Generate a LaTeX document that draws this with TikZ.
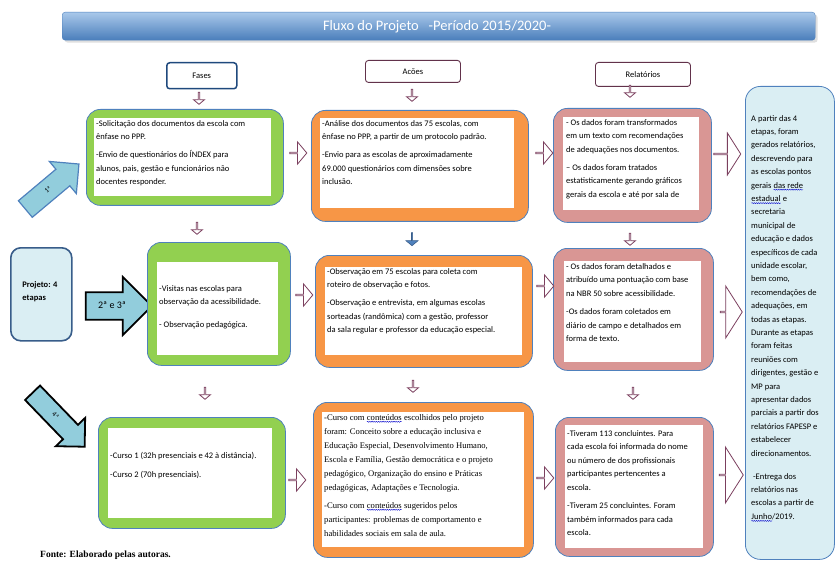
\documentclass[tikz,border=0pt]{standalone}
\usepackage{fontspec}
\setmainfont{Carlito}
\newfontfamily\serifb{Liberation Serif}
\usetikzlibrary{shapes.arrows,shadows,decorations.pathmorphing}
\definecolor{gfill}{HTML}{92D050}
\definecolor{ofill}{HTML}{F79646}
\definecolor{pfill}{HTML}{D99694}
\definecolor{lblue}{HTML}{DAEEF3}
\definecolor{bborder}{HTML}{4F81BD}
\definecolor{dblue}{HTML}{385D8A}
\definecolor{mrn}{HTML}{7B3F5E}
\definecolor{afill}{HTML}{92CDDC}
\definecolor{navy}{HTML}{1F497D}
\definecolor{tbtop}{HTML}{A9C8EA}
\definecolor{tbbot}{HTML}{4A7EBB}
\newcommand\bwave[1]{\tikz[baseline=(bw.base)]{\node[inner sep=0pt,outer sep=0pt,draw=none,fill=none,anchor=base] (bw) {#1};\draw[blue!80!black,line width=0.4pt,decorate,decoration={snake,amplitude=0.5pt,segment length=2.2pt}] ([yshift=-1.6pt]bw.base west)--([yshift=-1.6pt]bw.base east);}}
\begin{document}
\begin{tikzpicture}[x=1pt,y=-1pt,
  font=\fontsize{8.5}{13.5}\selectfont,
  box/.style={draw=bborder,line width=0.8pt,rounded corners=14pt,anchor=north west,inner sep=0pt},
  gbox/.style={box,fill=gfill},
  obox/.style={box,fill=ofill},
  pbox/.style={box,fill=pfill},
  wbox/.style={fill=white,draw=none,anchor=north west,inner sep=0pt},
  txt/.style={anchor=north west,align=left,inner sep=1pt},
  head/.style={draw,fill=white,rounded corners=3pt,anchor=north west,inner sep=0pt,font=\fontsize{8.5}{9}\selectfont},
  darr/.style={single arrow,draw=mrn,fill=white,line width=0.8pt,minimum height=12pt,minimum width=11pt,single arrow head extend=2.5pt,single arrow tip angle=100,shape border rotate=270,inner sep=0pt},
  rarr/.style={single arrow,draw=mrn,fill=white,line width=0.8pt,minimum height=17pt,minimum width=22pt,single arrow head extend=5.5pt,single arrow tip angle=100,inner sep=0pt},
  barr/.style={single arrow,draw=mrn,fill=white,line width=0.8pt,single arrow tip angle=115,inner sep=0pt},
  karr/.style={single arrow,fill=afill,inner sep=0pt,single arrow tip angle=90}
]
\useasboundingbox (0,0) rectangle (835,564);

% title
\node[draw=bborder,top color=tbtop,bottom color=tbbot,rounded corners=3pt,minimum width=753pt,minimum height=28pt,anchor=north west,drop shadow={opacity=0.25}] (title) at (62,12) {};
\node[text=white,font=\fontsize{14.5}{16}\selectfont] (titletext) at (437,26.5) {Fluxo do Projeto \ \ -Período 2015/2020-};

% headers
\node[head,draw=navy,line width=1.5pt,minimum width=70pt,minimum height=26pt] (fases) at (166,62) {Fases};
\node[head,draw=mrn!80!black,line width=0.9pt,minimum width=95pt,minimum height=22pt] (acoes) at (365,60) {Acões};
\node[head,draw=mrn!80!black,line width=0.9pt,minimum width=95pt,minimum height=24pt] (relat) at (595,62) {Relatórios};

\node[darr] (d1) at (199,98) {};
\node[darr] (d2) at (412,95) {};
\node[darr] (d3) at (630,91) {};

% row 1
\node[gbox,minimum width=197pt,minimum height=96pt] (g1) at (86,109) {};
\node[wbox,minimum width=177pt,minimum height=78pt] (g1w) at (94,118) {};
\node[txt] (g1t) at (95,119) {-Solicitação dos documentos da escola com\\
ênfase no PPP.\\[4.5pt]
-Envio de questionários do ÍNDEX para\\
alunos, pais, gestão e funcionários não\\
docentes responder.};

\node[obox,minimum width=217pt,minimum height=111pt] (o1) at (311,110) {};
\node[wbox,minimum width=194pt,minimum height=90pt] (o1w) at (320,118) {};
\node[txt] (o1t) at (321,119) {-Análise dos documentos das 75 escolas, com\\
ênfase no PPP, a partir de um protocolo padrão.\\[4.5pt]
-Envio para as escolas de aproximadamente\\
69.000 questionários com dimensões sobre\\
inclusão.};

\node[pbox,minimum width=158pt,minimum height=114pt] (p1) at (553,108) {};
\node[wbox,minimum width=136pt,minimum height=93pt] (p1w) at (563,117) {};
\node[txt] (p1t) at (565,118) {- Os dados foram transformados\\
em um texto com recomendações\\
de adequações nos documentos.\\[4.5pt]
– Os dados foram tratados\\
estatisticamente gerando gráficos\\
gerais da escola e até por sala de};

\node[rarr] (r11) at (298,153) {};
\node[rarr] (r12) at (544,153) {};
\node[barr,minimum height=27pt,minimum width=42pt,single arrow head extend=11pt] (b1) at (727,154) {};

\node[darr] (d4) at (197,228) {};
\node[single arrow,draw=dblue,fill=bborder,line width=0.6pt,minimum height=13pt,minimum width=12pt,single arrow head extend=3pt,single arrow tip angle=100,shape border rotate=270,inner sep=0pt] (d5) at (412,239) {};
\node[darr] (d6) at (630,239) {};

% row 2
\node[draw=dblue,line width=1.6pt,fill=lblue,rounded corners=10pt,minimum width=61pt,minimum height=93pt,anchor=north west] (proj) at (10,247) {};
\node[align=left,font=\bfseries\fontsize{8.5}{13}\selectfont] (projt) at (40,292) {Projeto: 4\\etapas};

\node[karr,draw=black,line width=1.8pt,minimum height=66pt,minimum width=58pt,single arrow head extend=15pt,font=\fontsize{10}{11}\selectfont] (a23) at (112,306) {\rule[-10pt]{0pt}{25pt}2ª e 3ª\hspace{10pt}};

\node[gbox,minimum width=143pt,minimum height=123pt] (g2) at (147,242) {};
\node[wbox,minimum width=121pt,minimum height=93pt] (g2w) at (157,262) {};
\node[txt] (g2t) at (158,284) {-Visitas nas escolas para\\
observação da acessibilidade.\\[9pt]
- Observação pedagógica.};

\node[obox,minimum width=217pt,minimum height=112pt] (o2) at (315,255) {};
\node[wbox,minimum width=197pt,minimum height=88pt] (o2w) at (325,267) {};
\node[txt] (o2t) at (326,267) {-Observação em 75 escolas para coleta com\\
roteiro de observação e fotos.\\[4.5pt]
-Observação e entrevista, em algumas escolas\\
sorteadas (randômica) com a gestão, professor\\
da sala regular e professor da educação especial.};

\node[pbox,minimum width=160pt,minimum height=122pt] (p2) at (553,248) {};
\node[wbox,minimum width=137pt,minimum height=101pt] (p2w) at (564,261) {};
\node[txt] (p2t) at (565,262) {- Os dados foram detalhados e\\
atribuído uma pontuação com base\\
na NBR 50 sobre acessibilidade.\\[5pt]
-Os dados foram coletados em\\
diário de campo e detalhados em\\
forma de texto.};

\node[rarr] (r21) at (304,295) {};
\node[rarr] (r22) at (545,286) {};
\node[barr,minimum height=22pt,minimum width=52pt,single arrow head extend=13pt] (b2) at (731,312) {};

\node[darr] (d7) at (205,393) {};
\node[darr] (d8) at (413,386) {};
\node[darr] (d9) at (633,393) {};

% diagonal arrows
\node[karr,draw=bborder,line width=1.2pt,minimum height=70pt,minimum width=42pt,single arrow head extend=10pt,rotate=40,font=\fontsize{7}{8}\selectfont] (a1) at (48,190) {\rule[-8pt]{0pt}{20pt}1ª\hspace{8pt}};
\node[karr,draw=black,line width=1.8pt,minimum height=75pt,minimum width=40pt,single arrow head extend=10pt,rotate=-46,font=\fontsize{7}{8}\selectfont] (a4) at (55,416) {\rule[-8pt]{0pt}{19pt}4ª\hspace{8pt}};

% row 3
\node[gbox,minimum width=187pt,minimum height=111pt] (g3) at (98,417) {};
\node[wbox,minimum width=164pt,minimum height=90pt] (g3w) at (108,428) {};
\node[txt] (g3t) at (109,451) {-Curso 1 (32h presenciais e 42 à distância).\\[6pt]
-Curso 2 (70h presenciais).};

\node[obox,minimum width=220pt,minimum height=155pt] (o3) at (313,402) {};
\node[wbox,minimum width=202pt,minimum height=135pt] (o3w) at (322,412) {};
\node[txt,font=\serifb\fontsize{8.6}{14}\selectfont] (o3t) at (323,413) {-Curso com \bwave{conteúdos} escolhidos pelo projeto\\
foram: Conceito sobre a educação inclusiva e\\
Educação Especial, Desenvolvimento Humano,\\
Escola e Família, Gestão democrática e o projeto\\
pedagógico, Organização do ensino e Práticas\\
pedagógicas, Adaptações e Tecnologia.\\[4pt]
-Curso com \bwave{conteúdos} sugeridos pelos\\
participantes: problemas de comportamento e\\
habilidades sociais em sala de aula.};

\node[pbox,minimum width=158pt,minimum height=139pt] (p3) at (555,417) {};
\node[wbox,minimum width=138pt,minimum height=123pt] (p3w) at (565,425) {};
\node[txt] (p3t) at (566,429) {-Tiveram 113 concluintes. Para\\
cada escola foi informada do nome\\
ou número de dos profissionais\\
participantes pertencentes a\\
escola.\\[5pt]
-Tiveram 25 concluintes. Foram\\
também informados para cada\\
escola.};

\node[rarr] (r31) at (297,480) {};
\node[rarr] (r32) at (545,478) {};
\node[barr,minimum height=24pt,minimum width=56pt,single arrow head extend=14pt] (b3) at (731,475) {};

% right panel
\node[draw=bborder,line width=0.8pt,fill=lblue,rounded corners=15pt,minimum width=89pt,minimum height=473pt,anchor=north west] (panel) at (745,86) {};
\node[txt,font=\fontsize{8.5}{13.4}\selectfont] (panelt) at (750,114) {A partir das 4\\
etapas, foram\\
gerados relatórios,\\
descrevendo para\\
as escolas pontos\\
gerais \bwave{das rede}\\
\bwave{estadual} e\\
secretaria\\
municipal de\\
educação e dados\\
específicos de cada\\
unidade escolar,\\
bem como,\\
recomendações de\\
adequações, em\\
todas as etapas.\\
Durante as etapas\\
foram feitas\\
reuniões com\\
dirigentes, gestão e\\
MP para\\
apresentar dados\\
parciais a partir dos\\
relatórios FAPESP e\\
estabelecer\\
direcionamentos.\\[9.6pt]
\ -Entrega dos\\
relatórios nas\\
escolas a partir de\\
\bwave{Junho}/2019.};

% source
\node[anchor=base west,inner sep=0pt,font=\serifb\bfseries\fontsize{9.5}{11}\selectfont] (src) at (40,557) {Fonte: Elaborado pelas autoras.};
\end{tikzpicture}
\end{document}
